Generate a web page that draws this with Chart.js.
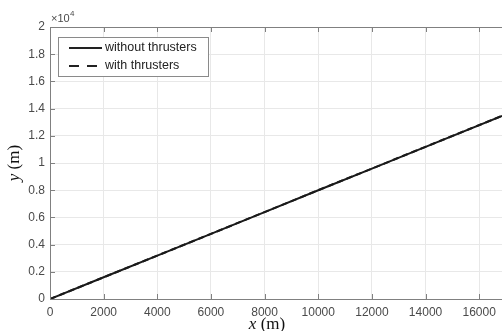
<!DOCTYPE html>
<html>
<head>
<meta charset="utf-8">
<script src="https://cdn.jsdelivr.net/npm/chart.js@4/dist/chart.umd.min.js"></script>
<style>
  html, body { margin: 0; padding: 0; background: #fff; }
  #wrap { width: 502px; height: 331px; position: relative; }
</style>
</head>
<body>
<div id="wrap"><canvas id="trajCanvas"></canvas></div>
<script>
// distance along x (m) and y (m)
const xValues = [0, 2000, 4000, 6000, 8000, 10000, 12000, 14000, 16850];
const yWithout = [0, 1600, 3190, 4790, 6390, 8000, 9590, 11190, 13470];
const yWith = [0, 1600, 3190, 4790, 6390, 8000, 9590, 11190, 13470];
const xTicks = [0, 2000, 4000, 6000, 8000, 10000, 12000, 14000, 16000];
const yTicks = [0, 2000, 4000, 6000, 8000, 10000, 12000, 14000, 16000, 18000, 20000];
const seriesLabels = ['without thrusters', 'with thrusters'];

const axisColor = '#808080';
const labelColor = '#4a4a4a';
const sans = '"Liberation Sans", Arial, sans-serif';

// legend box, exponent, mixed-style axis titles, inward ticks (matlab look)
const matlabBits = {
    id: 'matlabBits',
    afterDraw(chart) {
        const ctx = chart.ctx;
        const a = chart.chartArea;
        const xs = chart.scales.x, ys = chart.scales.y;
        ctx.save();

        // top box line
        ctx.strokeStyle = axisColor;
        ctx.lineWidth = 1;
        ctx.beginPath();
        ctx.moveTo(a.left, a.top + 0.5);
        ctx.lineTo(a.right, a.top + 0.5);
        ctx.stroke();

        // inward ticks
        ctx.beginPath();
        xTicks.forEach(v => {
            const px = Math.round(xs.getPixelForValue(v)) + 0.5;
            ctx.moveTo(px, a.bottom); ctx.lineTo(px, a.bottom - 5);
            ctx.moveTo(px, a.top); ctx.lineTo(px, a.top + 5);
        });
        yTicks.forEach(v => {
            const py = Math.round(ys.getPixelForValue(v)) + 0.5;
            ctx.moveTo(a.left, py); ctx.lineTo(a.left + 5, py);
        });
        ctx.stroke();

        // x10^4
        ctx.fillStyle = labelColor;
        ctx.textBaseline = 'alphabetic';
        ctx.textAlign = 'left';
        ctx.font = '11px ' + sans;
        ctx.fillText('\u00d710', a.left + 1, a.top - 5);
        ctx.font = '8px ' + sans;
        ctx.fillText('4', a.left + 20, a.top - 11);

        // axis titles: italic variable + upright unit
        const serif = '"Liberation Serif", "Times New Roman", serif';
        const drawTitle = (v, u, cx, cy) => {
            ctx.font = 'italic 17px ' + serif;
            const w1 = ctx.measureText(v + ' ').width;
            ctx.font = '17px ' + serif;
            const w2 = ctx.measureText(u).width;
            const x0 = cx - (w1 + w2) / 2;
            ctx.fillStyle = '#111';
            ctx.font = 'italic 17px ' + serif;
            ctx.fillText(v + ' ', x0, cy);
            ctx.font = '17px ' + serif;
            ctx.fillText(u, x0 + w1, cy);
        };
        drawTitle('x', '(m)', 267, 329);
        ctx.save();
        ctx.translate(19, 163);
        ctx.rotate(-Math.PI / 2);
        drawTitle('y', '(m)', 0, 0);
        ctx.restore();

        // legend
        const lx = a.left + 8, ly = a.top + 10, lw = 150, lh = 39;
        ctx.fillStyle = '#fff';
        ctx.fillRect(lx, ly, lw, lh);
        ctx.strokeStyle = '#8a8a8a';
        ctx.lineWidth = 1;
        ctx.strokeRect(lx + 0.5, ly + 0.5, lw, lh);
        ctx.font = '12.5px ' + sans;
        ctx.textBaseline = 'middle';
        chart.data.datasets.forEach((ds, i) => {
            const ry = ly + 11 + i * 18;
            ctx.strokeStyle = '#222';
            ctx.lineWidth = 2;
            ctx.setLineDash(ds.borderDash ? [10, 8] : []);
            ctx.beginPath();
            ctx.moveTo(lx + 11, ry);
            ctx.lineTo(lx + 44, ry);
            ctx.stroke();
            ctx.setLineDash([]);
            ctx.fillStyle = '#222';
            ctx.fillText(ds.label, lx + 47, ry);
        });
        ctx.restore();
    }
};

new Chart(
    document.getElementById('trajCanvas'), {
    type: 'line',
    data: {
        datasets: [{
            label: seriesLabels[0],
            data: xValues.map((x, i) => ({ x: x, y: yWithout[i] })),
            borderColor: '#1a1a1a',
            borderWidth: 2,
            pointRadius: 0,
            fill: false,
            order: 0
        }, {
            label: seriesLabels[1],
            data: xValues.map((x, i) => ({ x: x, y: yWith[i] })),
            borderColor: '#1a1a1a',
            borderWidth: 2,
            borderDash: [6, 4],
            pointRadius: 0,
            fill: false,
            order: 1
        }]
    },
    options: {
        responsive: true,
        maintainAspectRatio: false,
        animation: false,
        layout: { padding: { top: 27, right: 0, left: 0, bottom: 0 } },
        plugins: {
            legend: { display: false },
            tooltip: { enabled: false }
        },
        scales: {
            x: {
                type: 'linear',
                min: 0,
                max: 16850,
                afterBuildTicks: s => { s.ticks = xTicks.map(v => ({ value: v })); },
                afterFit: s => { s.height = 32; },
                ticks: {
                    color: labelColor,
                    font: { family: sans, size: 12 },
                    maxRotation: 0,
                    padding: 6,
                    callback: v => String(v)
                },
                grid: { color: '#e8e8e8', drawTicks: false },
                border: { color: axisColor }
            },
            y: {
                min: 0,
                max: 20000,
                afterBuildTicks: s => { s.ticks = yTicks.map(v => ({ value: v })); },
                afterFit: s => { s.width = 50; },
                ticks: {
                    color: labelColor,
                    font: { family: sans, size: 12 },
                    padding: 5,
                    callback: v => String(v / 10000)
                },
                grid: { color: '#e8e8e8', drawTicks: false },
                border: { color: axisColor }
            }
        }
    },
    plugins: [matlabBits]
});
</script>
</body>
</html>
